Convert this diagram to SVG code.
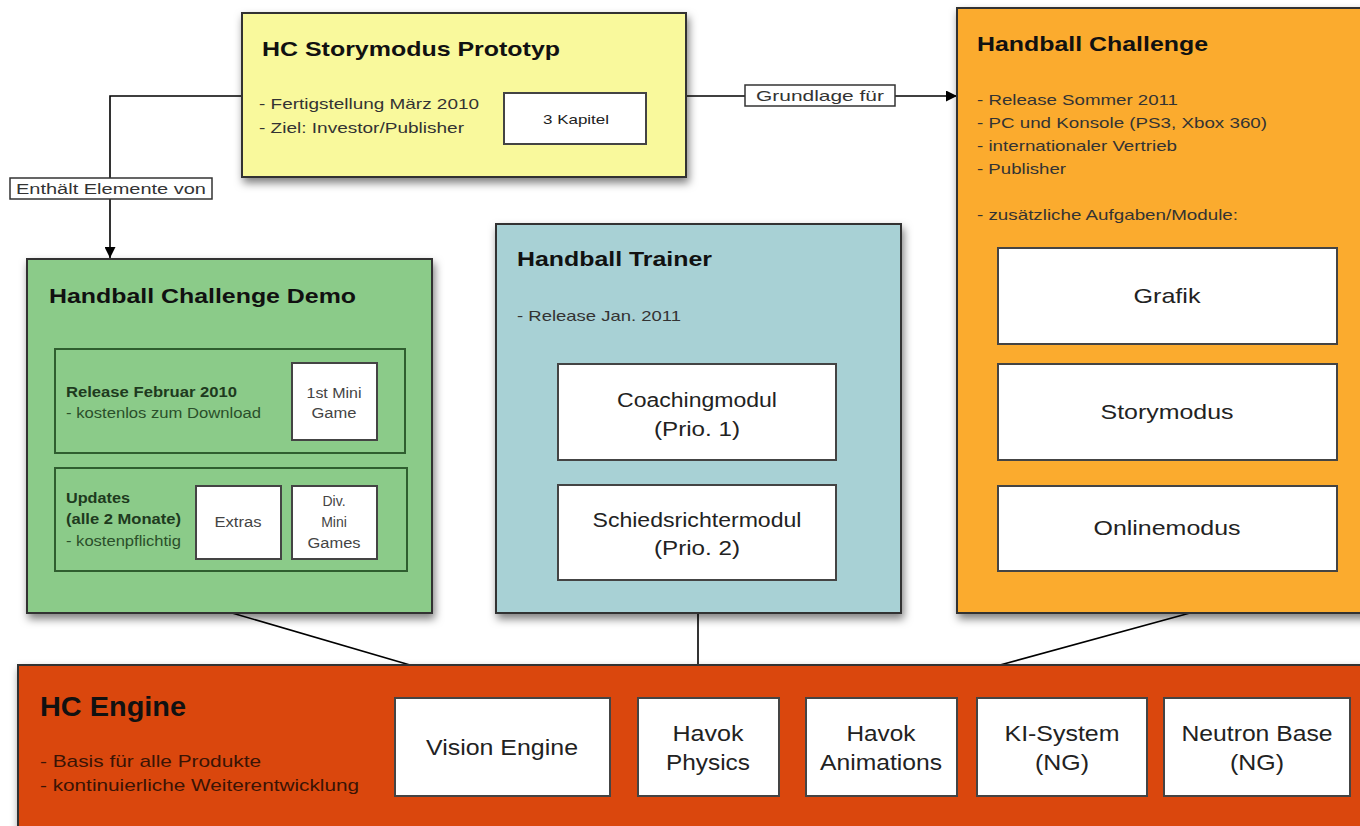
<svg xmlns="http://www.w3.org/2000/svg" width="1360" height="826" viewBox="0 0 1360 826">
<defs>
<filter id="sh" x="-10%" y="-10%" width="125%" height="130%">
<feDropShadow dx="2" dy="5" stdDeviation="4" flood-color="#000" flood-opacity="0.5"/>
</filter>
<marker id="arr" viewBox="0 0 10 10" refX="10" refY="5" markerWidth="11" markerHeight="11" markerUnits="userSpaceOnUse" orient="auto">
<path d="M0,0 L10,5 L0,10 z" fill="#000"/>
</marker>
<style>
text{font-family:"Liberation Sans",Arial,sans-serif;fill:#222}
.t{font-weight:bold;font-size:21px;fill:#111}
.s{font-size:15px;fill:#333}
.box{stroke:#333;stroke-width:2}
.w{fill:#fff;stroke:#444;stroke-width:2}
.c{text-anchor:middle}
.lbl{fill:#fff;stroke:#333;stroke-width:1.5}
.ln{fill:none;stroke:#000;stroke-width:1.6}
</style>
</defs>
<rect width="1360" height="826" fill="#fff"/>

<g id="connectors">
<polyline class="ln" points="242,96 110,96 110,258" marker-end="url(#arr)"/>
<rect class="lbl" x="10" y="178" width="202" height="21"/>
<text x="111" y="194" class="c" style="font-size:14px;fill:#333" textLength="190" lengthAdjust="spacingAndGlyphs">Enthält Elemente von</text>
<line class="ln" x1="686" y1="96" x2="957" y2="96" marker-end="url(#arr)"/>
<rect class="lbl" x="745" y="85" width="150" height="21"/>
<text x="820" y="101" class="c" style="font-size:15px;fill:#333" textLength="128" lengthAdjust="spacingAndGlyphs">Grundlage für</text>
<line class="ln" x1="232" y1="613" x2="410" y2="665"/>
<line class="ln" x1="698" y1="613" x2="698" y2="665"/>
<line class="ln" x1="1190" y1="613" x2="1000" y2="665"/>
</g>

<g id="prototyp">
<rect class="box" x="242" y="13" width="444" height="164" fill="#f9f99c" filter="url(#sh)"/>
<text x="262" y="56" class="t" textLength="298" lengthAdjust="spacingAndGlyphs">HC Storymodus Prototyp</text>
<text x="259" y="109" class="s" textLength="220" lengthAdjust="spacingAndGlyphs">- Fertigstellung März 2010</text>
<text x="259" y="133" class="s" textLength="205" lengthAdjust="spacingAndGlyphs">- Ziel: Investor/Publisher</text>
<rect class="w" x="504" y="93" width="142" height="51"/>
<text x="576" y="124" class="c" style="font-size:13px" textLength="66" lengthAdjust="spacingAndGlyphs">3 Kapitel</text>
</g>

<g id="challenge">
<rect class="box" x="957" y="8" width="410" height="605" fill="#fbab2d" filter="url(#sh)"/>
<text x="977" y="51" class="t" textLength="231" lengthAdjust="spacingAndGlyphs">Handball Challenge</text>
<text x="977" y="105" class="s" textLength="201" lengthAdjust="spacingAndGlyphs">- Release Sommer 2011</text>
<text x="977" y="128" class="s" textLength="290" lengthAdjust="spacingAndGlyphs">- PC und Konsole (PS3, Xbox 360)</text>
<text x="977" y="151" class="s" textLength="200" lengthAdjust="spacingAndGlyphs">- internationaler Vertrieb</text>
<text x="977" y="174" class="s" textLength="89" lengthAdjust="spacingAndGlyphs">- Publisher</text>
<text x="977" y="220" class="s" textLength="261" lengthAdjust="spacingAndGlyphs">- zusätzliche Aufgaben/Module:</text>
<rect class="w" x="998" y="248" width="339" height="96"/>
<text x="1167" y="303" class="c" style="font-size:21px" textLength="67" lengthAdjust="spacingAndGlyphs">Grafik</text>
<rect class="w" x="998" y="364" width="339" height="96"/>
<text x="1167" y="419" class="c" style="font-size:21px" textLength="133" lengthAdjust="spacingAndGlyphs">Storymodus</text>
<rect class="w" x="998" y="486" width="339" height="85"/>
<text x="1167" y="535" class="c" style="font-size:21px" textLength="147" lengthAdjust="spacingAndGlyphs">Onlinemodus</text>
</g>

<g id="demo">
<rect class="box" x="27" y="259" width="405" height="354" fill="#8bcb89" filter="url(#sh)"/>
<text x="49" y="303" class="t" textLength="307" lengthAdjust="spacingAndGlyphs">Handball Challenge Demo</text>
<rect x="55" y="349" width="350" height="104" fill="#8bcb89" stroke="#2f5e2f" stroke-width="2"/>
<text x="66" y="397" style="font-size:14px;font-weight:bold;fill:#1e3a1e" textLength="171" lengthAdjust="spacingAndGlyphs">Release Februar 2010</text>
<text x="66" y="418" style="font-size:14px;fill:#2a4f2a" textLength="195" lengthAdjust="spacingAndGlyphs">- kostenlos zum Download</text>
<rect class="w" x="292" y="363" width="85" height="77"/>
<text x="334" y="398" class="c" style="font-size:14px;fill:#444" textLength="55" lengthAdjust="spacingAndGlyphs">1st Mini</text>
<text x="334" y="418" class="c" style="font-size:14px;fill:#444" textLength="45" lengthAdjust="spacingAndGlyphs">Game</text>
<rect x="55" y="468" width="352" height="103" fill="#8bcb89" stroke="#2f5e2f" stroke-width="2"/>
<text x="66" y="503" style="font-size:14px;font-weight:bold;fill:#1e3a1e" textLength="64" lengthAdjust="spacingAndGlyphs">Updates</text>
<text x="66" y="524" style="font-size:14px;font-weight:bold;fill:#1e3a1e" textLength="115" lengthAdjust="spacingAndGlyphs">(alle 2 Monate)</text>
<text x="66" y="546" style="font-size:14px;fill:#2a4f2a" textLength="115" lengthAdjust="spacingAndGlyphs">- kostenpflichtig</text>
<rect class="w" x="196" y="486" width="85" height="73"/>
<text x="238" y="527" class="c" style="font-size:14px;fill:#444" textLength="47" lengthAdjust="spacingAndGlyphs">Extras</text>
<rect class="w" x="292" y="486" width="85" height="73"/>
<text x="334" y="506" class="c" style="font-size:14px;fill:#444">Div.</text>
<text x="334" y="527" class="c" style="font-size:14px;fill:#444">Mini</text>
<text x="334" y="548" class="c" style="font-size:14px;fill:#444" textLength="53" lengthAdjust="spacingAndGlyphs">Games</text>
</g>

<g id="trainer">
<rect class="box" x="496" y="224" width="405" height="389" fill="#a8d1d5" filter="url(#sh)"/>
<text x="517" y="266" class="t" textLength="195" lengthAdjust="spacingAndGlyphs">Handball Trainer</text>
<text x="517" y="321" class="s" textLength="164" lengthAdjust="spacingAndGlyphs">- Release Jan. 2011</text>
<rect class="w" x="558" y="364" width="278" height="96"/>
<text x="697" y="407" class="c" style="font-size:20px" textLength="160" lengthAdjust="spacingAndGlyphs">Coachingmodul</text>
<text x="697" y="436" class="c" style="font-size:20px" textLength="86" lengthAdjust="spacingAndGlyphs">(Prio. 1)</text>
<rect class="w" x="558" y="485" width="278" height="95"/>
<text x="697" y="527" class="c" style="font-size:20px" textLength="209" lengthAdjust="spacingAndGlyphs">Schiedsrichtermodul</text>
<text x="697" y="555" class="c" style="font-size:20px" textLength="86" lengthAdjust="spacingAndGlyphs">(Prio. 2)</text>
</g>

<g id="engine">
<rect class="box" x="18" y="665" width="1350" height="170" fill="#da470b" filter="url(#sh)"/>
<text x="40" y="716" style="font-size:27px;font-weight:bold;fill:#111" textLength="146" lengthAdjust="spacingAndGlyphs">HC Engine</text>
<text x="40" y="767" style="font-size:17px;fill:#3a1405" textLength="221" lengthAdjust="spacingAndGlyphs">- Basis für alle Produkte</text>
<text x="40" y="791" style="font-size:17px;fill:#3a1405" textLength="319" lengthAdjust="spacingAndGlyphs">- kontinuierliche Weiterentwicklung</text>
<rect class="w" x="395" y="698" width="215" height="98"/>
<text x="502" y="755" class="c" style="font-size:22px" textLength="152" lengthAdjust="spacingAndGlyphs">Vision Engine</text>
<rect class="w" x="638" y="698" width="141" height="98"/>
<text x="708" y="741" class="c" style="font-size:22px" textLength="71" lengthAdjust="spacingAndGlyphs">Havok</text>
<text x="708" y="770" class="c" style="font-size:22px" textLength="84" lengthAdjust="spacingAndGlyphs">Physics</text>
<rect class="w" x="806" y="698" width="151" height="98"/>
<text x="881" y="741" class="c" style="font-size:22px" textLength="69" lengthAdjust="spacingAndGlyphs">Havok</text>
<text x="881" y="770" class="c" style="font-size:22px" textLength="122" lengthAdjust="spacingAndGlyphs">Animations</text>
<rect class="w" x="977" y="698" width="170" height="98"/>
<text x="1062" y="741" class="c" style="font-size:22px" textLength="115" lengthAdjust="spacingAndGlyphs">KI-System</text>
<text x="1062" y="770" class="c" style="font-size:22px" textLength="54" lengthAdjust="spacingAndGlyphs">(NG)</text>
<rect class="w" x="1164" y="698" width="186" height="98"/>
<text x="1257" y="741" class="c" style="font-size:22px" textLength="151" lengthAdjust="spacingAndGlyphs">Neutron Base</text>
<text x="1257" y="770" class="c" style="font-size:22px" textLength="54" lengthAdjust="spacingAndGlyphs">(NG)</text>
</g>
</svg>
